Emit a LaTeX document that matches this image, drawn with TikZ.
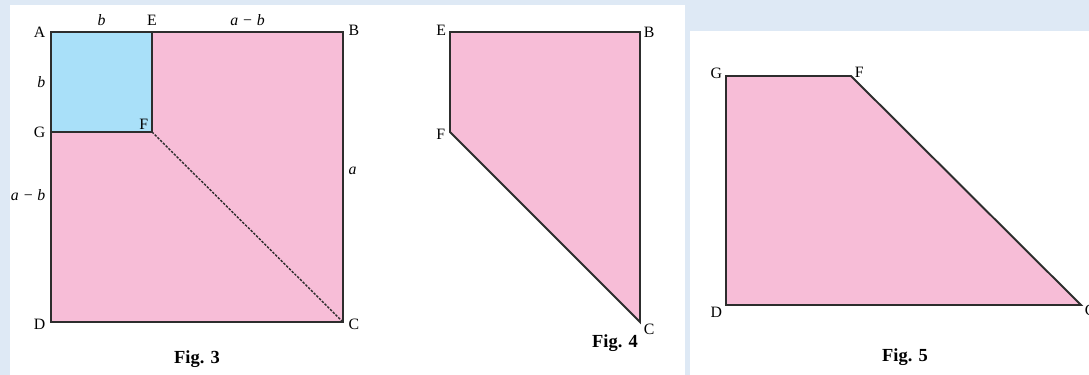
\documentclass[tikz,border=0pt]{standalone}
\usepackage{fontspec}
\setmainfont{Liberation Serif}
\usetikzlibrary{positioning}
\definecolor{pagebg}{RGB}{222,233,245}
\definecolor{piece}{RGB}{247,189,215}
\definecolor{square}{RGB}{169,224,249}
\definecolor{edge}{RGB}{45,45,45}

\begin{document}
\begin{tikzpicture}[
  x=0.02cm,y=-0.02cm,
  fig/.style={draw=edge,line width=1.1pt,line join=miter},
  cut/.style={draw=edge,line width=0.8pt,dash pattern=on 1.4pt off 0.8pt},
  lbl/.style={font=\fontsize{9}{10}\selectfont,inner sep=1pt},
  len/.style={font=\fontsize{9}{10}\selectfont\itshape,inner sep=1pt},
  figcap/.style={font=\fontsize{10.5}{12}\selectfont\bfseries},
]
  \useasboundingbox[fill=pagebg] (0,0) rectangle (1089,375);
  \fill[white] (10,5) rectangle (685,375);
  \fill[white] (690,31) rectangle (1089,375);

  % Fig. 3
  \coordinate (A3) at (51,32);
  \coordinate (E3) at (152,32);
  \coordinate (B3) at (343,32);
  \coordinate (G3) at (51,132);
  \coordinate (F3) at (152,132);
  \coordinate (D3) at (51,322);
  \coordinate (C3) at (343,322);
  \fill[piece] (A3) rectangle (C3);
  \fill[square] (A3) rectangle (F3);
  \draw[cut] (F3) -- (C3);
  \draw[fig] (E3) -- (F3) -- (G3);
  \draw[fig] (A3) -- (B3) -- (C3) -- (D3) -- cycle;
  \node[lbl,left=2pt of A3] (la3) {A};
  \node[lbl,above=2.5pt of E3] (le3) {E};
  \node[lbl,right=2pt of B3,yshift=1pt] (lb3) {B};
  \node[lbl,left=2pt of G3] (lg3) {G};
  \node[lbl,above left=0.5pt and 1pt of F3] (lf3) {F};
  \node[lbl,left=2pt of D3,yshift=-1.5pt] (ld3) {D};
  \node[lbl,right=2pt of C3,yshift=-1.5pt] (lc3) {C};
  \path (A3) -- node[len,above=2.5pt] (ab) {b} (E3);
  \path (E3) -- node[len,above=2.5pt] (eb) {a − b} (B3);
  \path (A3) -- node[len,left=2pt] (ag) {b} (G3);
  \path (G3) -- node[len,left=2pt,pos=0.33] (gd) {a − b} (D3);
  \path (B3) -- node[len,right=2pt,pos=0.48] (bc) {a} (C3);
  \node[figcap] (fig3) at (197,359) {Fig. 3};

  % Fig. 4
  \coordinate (E4) at (450,32);
  \coordinate (B4) at (640,32);
  \coordinate (C4) at (640,322);
  \coordinate (F4) at (450,132);
  \draw[fig,fill=piece] (E4) -- (B4) -- (C4) -- (F4) -- cycle;
  \node[lbl,left=1pt of E4,yshift=1pt] (le4) {E};
  \node[lbl,right=1pt of B4] (lb4) {B};
  \node[lbl,left=1.5pt of F4,yshift=-1.5pt] (lf4) {F};
  \node[lbl,right=1pt of C4,yshift=-4pt] (lc4) {C};
  \node[figcap] (fig4) at (615,343) {Fig. 4};

  % Fig. 5
  \coordinate (G5) at (726,76);
  \coordinate (F5) at (851,76);
  \coordinate (C5) at (1081,305);
  \coordinate (D5) at (726,305);
  \draw[fig,fill=piece] (G5) -- (F5) -- (C5) -- (D5) -- cycle;
  \node[lbl,left=1pt of G5,yshift=1.5pt] (lg5) {G};
  \node[lbl,right=1pt of F5,yshift=2pt] (lf5) {F};
  \node[lbl,left=1pt of D5,yshift=-4pt] (ld5) {D};
  \node[lbl,right=1pt of C5,yshift=-3pt] (lc5) {C};
  \node[figcap] (fig5) at (905,357) {Fig. 5};
\end{tikzpicture}
\end{document}
